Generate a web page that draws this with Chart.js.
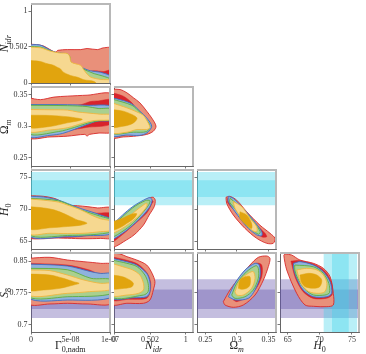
<!DOCTYPE html>
<html>
<head>
<meta charset="utf-8">
<script src="https://cdn.jsdelivr.net/npm/chart.js@4.4.1/dist/chart.umd.min.js"></script>
<style>
  body { margin: 0; background: #fff; width: 366px; height: 354px; position: relative; overflow: hidden; }
  .panel { position: absolute; }
  .lab { position: absolute; font-family: "Liberation Serif", serif; font-size: 11.5px; color: #222; white-space: nowrap; line-height: 1; }
  .lab sub { font-size: 70%; vertical-align: -0.35em; line-height: 0; }
</style>
</head>
<body>
<script>
// axis ranges and ticks (Gamma is in units of 1e-8)
const gamRange = [0, 10];
const gamTicks = [0, 5, 10];
const gamLabels = ['0', '5e-08', '1e-07'];
const nidrRange = [0, 1.1];
const nidrTicks = [0, 0.502, 1];
const nidrLabels = ['0', '0.502', '1'];
const omRange = [0.237, 0.362];
const omTicks = [0.25, 0.3, 0.35];
const omLabels = ['0.25', '0.3', '0.35'];
const h0Range = [63.8, 76.1];
const h0Ticks = [65, 70, 75];
const h0Labels = ['65', '70', '75'];
const s8Range = [0.683, 0.869];
const s8Ticks = [0.7, 0.775, 0.85];
const s8Labels = ['0.7', '0.775', '0.85'];

// external priors (68% / 95%)
const h0Band68 = [71.9, 74.5];
const h0Band95 = [70.6, 75.8];
const s8Band68 = [0.737, 0.783];
const s8Band95 = [0.716, 0.807];

// contour layers, bottom to top: red 95, red 68, blue 95, green 95, yellow 95, yellow 68
const gamNidr = [
  [[-0.3,0.54],[0.7,0.535],[1.6,0.515],[2.4,0.465],[3.1,0.43],[3.4,0.455],[4.6,0.465],[6.3,0.465],[7.1,0.48],[8.4,0.465],[9.2,0.49],[10.3,0.48],[10.3,-0.05],[-0.3,-0.05]],
  [[6.6,-0.05],[7.0,0.14],[8.0,0.17],[9.2,0.16],[10.3,0.18],[10.3,-0.05]],
  [[-0.3,0.53],[0.7,0.535],[1.4,0.52],[2.4,0.46],[3.3,0.42],[4.5,0.41],[4.8,0.385],[5.0,0.29],[5.9,0.24],[7.5,0.17],[8.8,0.15],[10.3,0.08],[10.3,-0.05],[-0.3,-0.05]],
  [[-0.3,0.51],[1.2,0.5],[2.4,0.45],[3.4,0.415],[4.6,0.405],[4.9,0.37],[5.1,0.28],[6.0,0.235],[6.5,0.2],[8.0,0.13],[9.0,0.1],[10.3,0.04],[10.3,-0.05],[-0.3,-0.05]],
  [[-0.3,0.5],[1.2,0.49],[2.4,0.445],[3.5,0.42],[4.6,0.41],[4.9,0.37],[5.1,0.29],[6.3,0.245],[6.7,0.18],[7.1,0.125],[7.6,0.08],[8.8,0.05],[10.3,0.035],[10.3,-0.05],[-0.3,-0.05]],
  [[-0.3,0.316],[1.2,0.3],[2.0,0.27],[2.9,0.245],[3.3,0.22],[3.7,0.2],[4.1,0.15],[5.0,0.105],[5.9,0.08],[6.7,0.045],[8.0,0.02],[8.5,-0.05],[-0.3,-0.05]]
];
const gamOm = [
  [[-0.3,0.345],[1.2,0.342],[2.9,0.346],[4.6,0.3475],[7.1,0.349],[10.3,0.35],[10.3,0.292],[8.5,0.289],[7.4,0.287],[7.1,0.2845],[6.8,0.287],[4.6,0.2842],[2.4,0.283],[-0.3,0.2826]],
  [[-0.3,0.331],[4,0.332],[6.3,0.334],[7.5,0.339],[8.5,0.34],[10.3,0.341],[10.3,0.305],[7,0.298],[4,0.292],[-0.3,0.29]],
  [[-0.3,0.3343],[4.6,0.334],[7.1,0.333],[10.3,0.331],[10.3,0.31],[8.4,0.308],[7.1,0.3027],[5.5,0.295],[4.0,0.2885],[2.4,0.2855],[-0.3,0.2842]],
  [[-0.3,0.333],[4.6,0.3325],[7.1,0.331],[8.5,0.328],[10.3,0.327],[10.3,0.311],[8.5,0.3085],[7.1,0.3045],[5.5,0.298],[3.5,0.2915],[-0.3,0.2885]],
  [[-0.3,0.3264],[2.4,0.326],[4.6,0.3255],[5.9,0.3225],[7.1,0.321],[8.8,0.319],[10.3,0.318],[10.3,0.3106],[8.0,0.309],[6.7,0.3053],[4.6,0.2975],[2.4,0.294],[-0.3,0.292]],
  [[-0.3,0.3174],[2.4,0.317],[4.6,0.315],[6.0,0.3125],[6.5,0.311],[6.2,0.309],[4.6,0.3053],[2.4,0.2995],[-0.3,0.2984]]
];
const nidrOm = [
  [[-0.03,0.3585],[0.084,0.358],[0.18,0.3528],[0.27,0.345],[0.36,0.337],[0.455,0.3238],[0.525,0.313],[0.585,0.3],[0.547,0.292],[0.455,0.287],[0.27,0.284],[0.13,0.283],[-0.03,0.2826]],
  [[-0.03,0.353],[0.13,0.3475],[0.25,0.337],[0.3,0.329],[0.4,0.318],[0.47,0.306],[0.4,0.292],[0.2,0.287],[-0.03,0.286]],
  [[-0.03,0.345],[0.13,0.3406],[0.25,0.335],[0.36,0.3238],[0.455,0.313],[0.525,0.3],[0.46,0.2895],[0.36,0.2855],[0.18,0.286],[-0.03,0.2855]],
  [[-0.03,0.343],[0.25,0.333],[0.36,0.322],[0.46,0.309],[0.5,0.3],[0.455,0.2915],[0.27,0.2905],[-0.03,0.29]],
  [[-0.03,0.337],[0.18,0.329],[0.32,0.3225],[0.41,0.317],[0.475,0.3053],[0.5,0.2975],[0.455,0.2948],[0.32,0.2948],[0.18,0.2905],[-0.03,0.2905]],
  [[-0.03,0.3264],[0.13,0.3238],[0.25,0.3185],[0.32,0.313],[0.3,0.308],[0.23,0.3027],[0.13,0.3],[-0.03,0.299]]
];
const gamH0 = [
  [[-0.3,72.1],[1.6,72.0],[2.9,71.7],[3.5,71.4],[4.6,70.65],[5.9,70.54],[7.1,70.4],[8.4,70.2],[10.3,70.1],[10.3,65.6],[8.8,65.45],[6.7,65.4],[4.6,65.47],[2.4,65.56],[-0.3,65.7]],
  [[-0.3,71.0],[5,70.2],[8,69.4],[10.3,69.3],[10.3,67.4],[7,65.9],[4,65.6],[-0.3,65.8]],
  [[-0.3,72.0],[1.6,71.9],[3.5,71.4],[4.6,70.9],[6.3,70.1],[7.6,69.6],[8.8,69.1],[10.3,68.3],[10.3,66.25],[7.1,65.87],[4.6,65.7],[-0.3,65.87]],
  [[-0.3,71.7],[3.5,71.3],[6.3,69.9],[8.8,68.9],[10.3,68.2],[10.3,66.5],[4.6,65.9],[-0.3,66.1]],
  [[-0.3,71.6],[1.6,71.4],[3.5,71.1],[4.6,70.65],[6.3,69.9],[7.6,69.1],[8.8,68.5],[10.3,68.05],[10.3,66.76],[8.8,66.5],[6.7,66.25],[4.6,66.2],[2.4,66.25],[-0.3,66.25]],
  [[-0.3,70.4],[1.6,70.2],[2.9,69.9],[4.0,69.4],[5.0,68.83],[5.9,68.3],[6.7,68.05],[7.1,67.8],[6.3,67.5],[4.6,67.3],[2.4,67.1],[-0.3,67.0]]
];
const nidrH0 = [
  [[-0.03,67.2],[0.037,67.0],[0.177,68.6],[0.316,70.1],[0.408,71.2],[0.477,71.7],[0.547,71.85],[0.574,71.4],[0.56,70.4],[0.49,69.1],[0.408,67.5],[0.28,66.0],[0.135,64.94],[0.04,64.3],[-0.03,64.1]],
  [[-0.03,66.6],[0.12,68.3],[0.26,69.9],[0.41,71.2],[0.5,71.6],[0.545,71.2],[0.53,70.9],[0.455,69.4],[0.27,67.5],[0.08,65.7],[-0.03,64.9]],
  [[-0.03,67.5],[0.12,69.1],[0.26,70.4],[0.41,71.4],[0.5,71.8],[0.53,71.4],[0.5,70.4],[0.41,69.1],[0.26,67.5],[0.12,66.25],[-0.03,65.36]],
  [[-0.03,67.3],[0.26,70.2],[0.44,71.35],[0.5,71.3],[0.48,70.6],[0.41,69.6],[0.26,67.75],[0.1,66.4],[-0.03,65.7]],
  [[-0.03,67.0],[0.177,68.6],[0.32,69.9],[0.41,70.65],[0.455,70.9],[0.455,70.4],[0.36,69.1],[0.22,67.8],[0.08,66.76],[-0.03,66.25]],
  [[-0.03,68.0],[0.12,68.6],[0.24,69.2],[0.316,69.3],[0.28,68.6],[0.18,67.8],[0.08,67.1],[-0.03,66.76]]
];
const omH0 = [
  [[0.2829,71.85],[0.289,72.0],[0.2998,71.4],[0.3156,69.6],[0.3367,67.5],[0.3525,66.25],[0.3604,65.47],[0.3577,64.69],[0.3473,64.69],[0.3314,65.47],[0.313,67.0],[0.2944,69.1],[0.284,70.9]],
  [[0.2855,71.7],[0.296,71.2],[0.326,68.05],[0.3446,66.25],[0.3473,65.7],[0.3393,65.7],[0.3156,67.5],[0.298,69.6],[0.2855,71.0]],
  [[0.2866,72.0],[0.2944,71.7],[0.3103,70.1],[0.326,68.3],[0.3394,66.5],[0.3394,65.87],[0.3314,66.0],[0.3156,67.3],[0.2972,69.6],[0.2866,71.2]],
  [[0.2895,71.7],[0.308,70.1],[0.326,68.05],[0.337,66.5],[0.334,66.1],[0.3156,67.5],[0.2985,69.9],[0.2885,71.1]],
  [[0.2944,71.2],[0.3077,70.4],[0.3208,68.6],[0.3314,67.3],[0.3314,66.5],[0.3234,66.76],[0.3103,68.3],[0.2972,70.1]],
  [[0.305,69.6],[0.3156,69.1],[0.3234,67.8],[0.3234,67.0],[0.3156,67.5],[0.305,68.6]]
];
const gamS8 = [
  [[-0.3,0.8565],[2.4,0.8588],[4.6,0.8525],[6.7,0.8485],[8.8,0.8447],[10.3,0.8407],[10.3,0.752],[7.1,0.749],[4.6,0.7506],[2.4,0.749],[-0.3,0.7506]],
  [[-0.3,0.8447],[4.6,0.8407],[7.4,0.829],[8.4,0.821],[10.3,0.8172],[10.3,0.766],[4.6,0.7636],[-0.3,0.7636]],
  [[-0.3,0.843],[4.6,0.8384],[7.6,0.825],[8.8,0.821],[10.3,0.819],[10.3,0.766],[4.6,0.7583],[-0.3,0.7636]],
  [[-0.3,0.833],[4.6,0.8296],[7.6,0.8094],[10.3,0.8054],[10.3,0.774],[4.6,0.766],[-0.3,0.766]],
  [[-0.3,0.829],[2.4,0.8275],[4.6,0.8172],[6.7,0.8054],[8.8,0.7976],[10.3,0.7976],[10.3,0.7835],[7.4,0.778],[4.6,0.774],[-0.3,0.77]],
  [[-0.3,0.8195],[2.4,0.8172],[4.1,0.8094],[5.4,0.8014],[6.1,0.7976],[5.4,0.7937],[3.7,0.7859],[1.6,0.7819],[-0.3,0.7819]]
];
const nidrS8 = [
  [[-0.03,0.8683],[0.08,0.867],[0.18,0.8603],[0.316,0.8525],[0.455,0.8407],[0.53,0.8212],[0.57,0.8014],[0.547,0.7819],[0.5,0.7583],[0.41,0.7506],[0.18,0.7506],[-0.03,0.749]],
  [[-0.03,0.86],[0.18,0.852],[0.33,0.843],[0.46,0.822],[0.51,0.8],[0.5,0.776],[0.45,0.762],[0.2,0.76],[-0.03,0.76]],
  [[-0.03,0.8565],[0.18,0.8485],[0.316,0.8407],[0.455,0.8212],[0.5,0.8014],[0.5,0.778],[0.455,0.766],[0.27,0.7636],[-0.03,0.7636]],
  [[-0.03,0.8525],[0.18,0.8447],[0.32,0.837],[0.43,0.8172],[0.475,0.7976],[0.475,0.778],[0.41,0.77],[-0.03,0.766]],
  [[-0.03,0.8447],[0.12,0.8368],[0.26,0.829],[0.36,0.8172],[0.41,0.7976],[0.41,0.7819],[0.34,0.774],[0.18,0.77],[-0.03,0.77]],
  [[-0.03,0.8172],[0.12,0.8133],[0.22,0.8054],[0.27,0.7976],[0.25,0.7897],[0.15,0.7859],[-0.03,0.7859]]
];
const omS8 = [
  [[0.2786,0.7543],[0.2892,0.7819],[0.305,0.8132],[0.3208,0.8407],[0.334,0.8588],[0.3473,0.8619],[0.3525,0.8565],[0.3499,0.837],[0.342,0.8054],[0.3288,0.77],[0.3103,0.7466],[0.2944,0.7411],[0.2813,0.7466]],
  [[0.2944,0.7583],[0.2997,0.7897],[0.3156,0.8212],[0.3314,0.8447],[0.3394,0.8407],[0.3394,0.8133],[0.3288,0.7819],[0.313,0.7623],[0.3,0.7545]],
  [[0.2866,0.766],[0.2971,0.7976],[0.313,0.829],[0.3288,0.8447],[0.3356,0.8407],[0.3367,0.8132],[0.3288,0.7819],[0.3182,0.7623],[0.298,0.7583]],
  [[0.2919,0.77],[0.2998,0.7976],[0.3156,0.8251],[0.3303,0.8392],[0.334,0.833],[0.334,0.8094],[0.3261,0.7819],[0.313,0.766],[0.2971,0.7623]],
  [[0.2971,0.778],[0.305,0.8054],[0.3182,0.8212],[0.3261,0.8251],[0.3288,0.8094],[0.3235,0.7859],[0.3103,0.7701],[0.3,0.7701]],
  [[0.3023,0.7859],[0.305,0.8054],[0.313,0.8133],[0.3208,0.8133],[0.3208,0.7937],[0.3156,0.7859],[0.3076,0.7835]]
];
const h0S8 = [
  [[64.58,0.8666],[65.6,0.8643],[66.9,0.8525],[69.0,0.8447],[70.55,0.8329],[71.6,0.8132],[72.1,0.774],[72.1,0.7466],[71.1,0.7426],[69.0,0.7435],[67.7,0.7466],[66.4,0.774],[64.85,0.829],[64.4,0.8635]],
  [[65.5,0.85],[66.9,0.851],[69.0,0.843],[70.8,0.826],[71.8,0.8],[71.95,0.772],[71.2,0.763],[69.0,0.762],[67.4,0.778],[66.2,0.81]],
  [[65.9,0.8447],[66.9,0.8486],[69.0,0.8407],[70.55,0.8251],[71.6,0.8014],[71.85,0.774],[71.1,0.766],[69.0,0.766],[67.4,0.7819],[66.4,0.8094],[65.9,0.833]],
  [[66.1,0.8407],[69.0,0.8366],[70.55,0.8212],[71.4,0.7976],[71.5,0.7756],[70.8,0.7701],[69.0,0.7701],[67.7,0.7835],[66.55,0.8094],[66.1,0.829]],
  [[66.4,0.829],[67.95,0.8329],[69.55,0.829],[70.55,0.8172],[71.1,0.7976],[70.8,0.778],[69.8,0.774],[68.3,0.778],[67.2,0.7937],[66.7,0.8133]],
  [[66.9,0.8172],[68.3,0.8212],[69.55,0.8172],[70.3,0.8054],[70.0,0.7897],[69.0,0.7859],[67.7,0.7897],[67.1,0.8015]]
];

const layerStyle = [
  { fill: '#e9907a', line: '#d82a2a', width: 0.9 },
  { fill: '#d8232b', line: '#d8232b', width: 0.5 },
  { fill: '#8fb2dd', line: '#3e6fc2', width: 0.9 },
  { fill: '#a9d08f', line: '#5fae3e', width: 0.9 },
  { fill: '#f6d890', line: '#f2b53e', width: 0.9 },
  { fill: '#e1a40e', line: '#e1a40e', width: 0.5 }
];
const purple = 'rgba(100,85,170,0.38)';
const cyan = 'rgba(60,212,232,0.36)';

const axes = {
  gam: { range: gamRange, ticks: gamTicks, labels: gamLabels, title: 'Γ<sub>0,nadm</sub>' },
  nidr: { range: nidrRange, ticks: nidrTicks, labels: nidrLabels, title: '<i>N<sub>idr</sub></i>' },
  om: { range: omRange, ticks: omTicks, labels: omLabels, title: 'Ω<sub><i>m</i></sub>' },
  h0: { range: h0Range, ticks: h0Ticks, labels: h0Labels, title: '<i>H</i><sub>0</sub>' },
  s8: { range: s8Range, ticks: s8Ticks, labels: s8Labels, title: '<i>S</i><sub>8</sub>' }
};

const panels = [
  { row: 0, col: 0, x: 'gam', y: 'nidr', layers: gamNidr },
  { row: 1, col: 0, x: 'gam', y: 'om', layers: gamOm },
  { row: 1, col: 1, x: 'nidr', y: 'om', layers: nidrOm },
  { row: 2, col: 0, x: 'gam', y: 'h0', layers: gamH0 },
  { row: 2, col: 1, x: 'nidr', y: 'h0', layers: nidrH0 },
  { row: 2, col: 2, x: 'om', y: 'h0', layers: omH0 },
  { row: 3, col: 0, x: 'gam', y: 's8', layers: gamS8 },
  { row: 3, col: 1, x: 'nidr', y: 's8', layers: nidrS8 },
  { row: 3, col: 2, x: 'om', y: 's8', layers: omS8 },
  { row: 3, col: 3, x: 'h0', y: 's8', layers: h0S8 }
];

const colLeft = [31, 114, 197, 280];
const rowTop = [4, 87, 170, 253];
const W = 79, H = 79;

function poly(pts, fill, line, width) {
  return {
    data: pts.concat([pts[0]]).map(p => ({ x: p[0], y: p[1] })),
    showLine: true,
    fill: 'shape',
    backgroundColor: fill,
    borderColor: line,
    borderWidth: width,
    pointRadius: 0,
    tension: width ? 0.3 : 0
  };
}

function hBand(lims, xr, color) {
  return poly([[xr[0], lims[0]], [xr[1], lims[0]], [xr[1], lims[1]], [xr[0], lims[1]]], color, 'transparent', 0);
}
function vBand(lims, yr, color) {
  return poly([[lims[0], yr[0]], [lims[1], yr[0]], [lims[1], yr[1]], [lims[0], yr[1]]], color, 'transparent', 0);
}

const framePlugin = {
  id: 'frame',
  afterDraw(chart) {
    const { ctx, chartArea: a } = chart;
    ctx.save();
    ctx.strokeStyle = '#b8b8b8';
    ctx.lineWidth = 2;
    ctx.beginPath();
    ctx.moveTo(a.left, a.top);
    ctx.lineTo(a.right, a.top);
    ctx.lineTo(a.right, a.bottom);
    ctx.stroke();
    ctx.restore();
  }
};

function scaleFor(ax, pos, showLabels, size) {
  return {
    type: 'linear',
    position: pos,
    min: ax.range[0],
    max: ax.range[1],
    afterBuildTicks: s => { s.ticks = ax.ticks.map(v => ({ value: v })); },
    ticks: {
      display: showLabels,
      autoSkip: false,
      maxRotation: 0,
      padding: 1,
      color: '#333',
      font: { family: 'Liberation Serif', size: 8 },
      callback: (v, i) => ax.labels[i]
    },
    grid: { drawOnChartArea: false, tickLength: 2.5, color: '#555', lineWidth: 0.8 },
    border: { color: '#666', width: 1 },
    afterFit: s => {
      if (pos === 'left') s.width = size; else s.height = size;
      s.paddingLeft = 0; s.paddingRight = 0; s.paddingTop = 0; s.paddingBottom = 0;
    }
  };
}

function makePanel(p) {
  const xa = axes[p.x], ya = axes[p.y];
  const L = p.col === 0 ? 31 : 14;
  const R = 16, T = 6;
  const B = p.row === 3 ? 22 : 8;
  const axW = p.col === 0 ? 31 : 4;
  const axH = p.row === 3 ? 14 : 4;

  const box = document.createElement('div');
  box.className = 'panel';
  box.style.left = (colLeft[p.col] - L) + 'px';
  box.style.top = (rowTop[p.row] - T) + 'px';
  const canvas = document.createElement('canvas');
  canvas.width = W + L + R;
  canvas.height = H + T + B;
  box.appendChild(canvas);
  document.body.appendChild(box);

  const sets = [];
  if (p.y === 'h0') { sets.push(hBand(h0Band95, xa.range, cyan), hBand(h0Band68, xa.range, cyan)); }
  if (p.y === 's8') { sets.push(hBand(s8Band95, xa.range, purple), hBand(s8Band68, xa.range, purple)); }
  if (p.x === 'h0') { sets.push(vBand(h0Band95, ya.range, cyan), vBand(h0Band68, ya.range, cyan)); }
  p.layers.forEach((pts, i) => {
    const st = layerStyle[i];
    sets.push(poly(pts, st.fill, st.line, st.width));
  });
  // Chart.js paints the first dataset last, so reverse to keep bottom-to-top order
  sets.reverse();

  new Chart(canvas, {
    type: 'scatter',
    data: { datasets: sets },
    options: {
      responsive: false,
      animation: false,
      events: [],
      layout: { padding: { left: L - axW, right: R, top: T, bottom: B - axH } },
      plugins: { legend: { display: false }, tooltip: { enabled: false } },
      scales: {
        x: scaleFor(xa, 'bottom', p.row === 3, axH),
        y: scaleFor(ya, 'left', p.col === 0, axW)
      }
    },
    plugins: [framePlugin]
  });
}

panels.forEach(makePanel);

// axis titles
function addLabel(html, cx, cy, rotate) {
  const d = document.createElement('div');
  d.className = 'lab';
  d.innerHTML = html;
  document.body.appendChild(d);
  d.style.left = (cx - d.offsetWidth / 2) + 'px';
  d.style.top = (cy - d.offsetHeight / 2) + 'px';
  if (rotate) d.style.transform = 'rotate(-90deg)';
}
['gam', 'nidr', 'om', 'h0'].forEach((k, c) => addLabel(axes[k].title, colLeft[c] + W / 2, 346, false));
['nidr', 'om', 'h0', 's8'].forEach((k, r) => addLabel(axes[k].title, 4.5, rowTop[r] + H / 2, true));
</script>
</body>
</html>
